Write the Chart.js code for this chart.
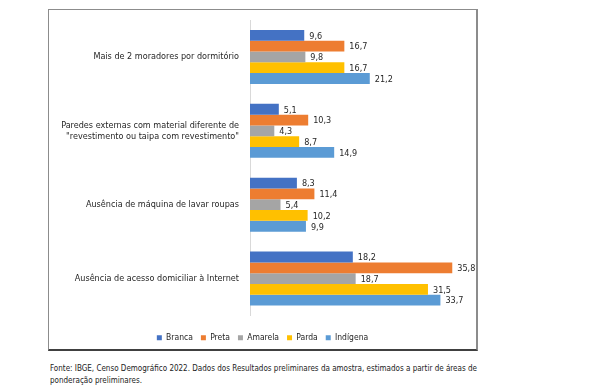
<!DOCTYPE html>
<html>
<head>
<meta charset="utf-8">
<script src="https://cdn.jsdelivr.net/npm/chart.js@4/dist/chart.umd.min.js"></script>
<style>
  html, body { margin: 0; padding: 0; background: #fff; width: 590px; height: 389px; overflow: hidden; }
  #frame { position: absolute; left: 48px; top: 9px; width: 427px; height: 339px; border: 1px solid #8c8c8c; border-bottom: 2px solid #404040; border-right: 2px solid #8c8c8c; }
  #wrap { position: absolute; left: 49px; top: 10px; width: 427px; height: 342px; }
  #note { position: absolute; left: 50px; top: 363px; width: 427px; font-family: "DejaVu Sans Condensed", "DejaVu Sans", sans-serif; font-size: 8px; line-height: 12px; color: #222; text-align: justify; }
</style>
</head>
<body>
<div id="frame"></div>
<div id="wrap"><canvas id="c" width="427" height="342"></canvas></div>
<div id="note">Fonte: IBGE, Censo Demográfico 2022. Dados dos Resultados preliminares da amostra, estimados a partir de áreas de ponderação preliminares.</div>
<script>
const categories = [
  "Mais de 2 moradores por dormitório",
  ["Paredes externas com material diferente de", "\"revestimento ou taipa com revestimento\""],
  "Ausência de máquina de lavar roupas",
  "Ausência de acesso domiciliar à Internet"
];
const seriesNames = ["Branca", "Preta", "Amarela", "Parda", "Indígena"];
const branca   = [9.6, 5.1, 8.3, 18.2];
const preta    = [16.7, 10.3, 11.4, 35.8];
const amarela  = [9.8, 4.3, 5.4, 18.7];
const parda    = [16.7, 8.7, 10.2, 31.5];
const indigena = [21.2, 14.9, 9.9, 33.7];
const colors = ["#4472C4", "#ED7D31", "#A5A5A5", "#FFC000", "#5B9BD5"];
const seriesValues = [branca, preta, amarela, parda, indigena];

const FONT = "'DejaVu Sans Condensed', 'DejaVu Sans', sans-serif";

const valueLabels = {
  id: 'valueLabels',
  afterDatasetsDraw(chart) {
    const ctx = chart.ctx;
    ctx.save();
    ctx.font = "9px " + FONT;
    ctx.fillStyle = "#262626";
    ctx.textBaseline = "middle";
    ctx.textAlign = "left";
    chart.data.datasets.forEach((ds, i) => {
      const meta = chart.getDatasetMeta(i);
      meta.data.forEach((el, j) => {
        const v = ds.data[j];
        ctx.fillText(v.toFixed(1).replace('.', ','), el.x + 5, el.y + 1);
      });
    });
    ctx.restore();
  }
};

new Chart(document.getElementById('c'), {
  type: 'bar',
  data: {
    labels: categories,
    datasets: seriesNames.map((n, i) => ({
      label: n,
      data: seriesValues[i],
      backgroundColor: colors[i],
      barPercentage: 1,
      categoryPercentage: 0.73
    }))
  },
  options: {
    indexAxis: 'y',
    responsive: false,
    animation: false,
    layout: { padding: { top: 10, right: 0, left: 0, bottom: 0 } },
    scales: {
      x: {
        display: true, min: 0, max: 40,
        grid: { display: false, drawTicks: false },
        border: { display: false },
        ticks: { display: false },
        afterFit(scale) { scale.height = 10; }
      },
      y: {
        grid: { display: false, drawTicks: false },
        border: { display: true, color: '#d9d9d9', width: 1 },
        ticks: { padding: 11, color: '#262626', font: { family: FONT, size: 9 } },
        afterFit(scale) { scale.width = 201; scale.paddingTop = 0; scale.paddingBottom = 0; }
      }
    },
    plugins: {
      legend: {
        position: 'bottom',
        labels: {
          boxWidth: 5, boxHeight: 5, padding: 8,
          color: '#262626',
          font: { family: FONT, size: 8.5 }
        }
      },
      tooltip: { enabled: false }
    }
  },
  plugins: [valueLabels]
});
</script>
</body>
</html>
